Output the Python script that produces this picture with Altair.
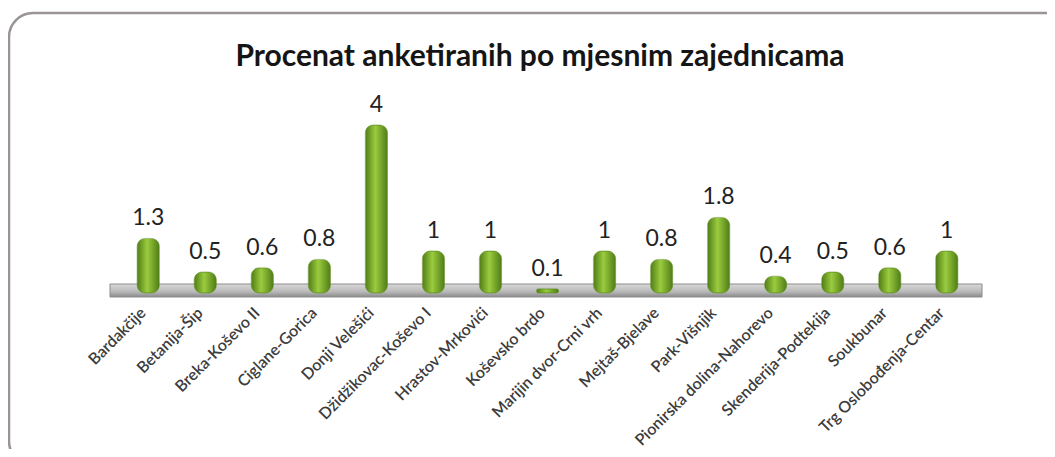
import altair as alt
import pandas as pd

categories = ["Bardakčije", "Betanija-Šip", "Breka-Koševo II", "Ciglane-Gorica",
              "Donji Velešići", "Džidžikovac-Koševo I", "Hrastov-Mrkovići",
              "Koševsko brdo", "Marijin dvor-Crni vrh", "Mejtaš-Bjelave",
              "Park-Višnjik", "Pionirska dolina-Nahorevo", "Skenderija-Podtekija",
              "Soukbunar", "Trg Oslobođenja-Centar"]
values = [1.3, 0.5, 0.6, 0.8, 4, 1, 1, 0.1, 1, 0.8, 1.8, 0.4, 0.5, 0.6, 1]
labels = ["1.3", "0.5", "0.6", "0.8", "4", "1", "1", "0.1", "1", "0.8", "1.8",
          "0.4", "0.5", "0.6", "1"]
title_text = ["Procenat anketiranih po mjesnim zajednicama"]

df = pd.DataFrame({"cat": categories, "val": values, "lab": labels})

W, H = 855, 168
FONT = "Lato"

x = alt.X("cat:N", sort=categories, title=None,
          scale=alt.Scale(paddingInner=0.61, paddingOuter=0.3),
          axis=alt.Axis(labelAngle=-45, labelAlign="right", labelBaseline="middle",
                        labelFontSize=16, labelColor="#3c3c3c", labelFont=FONT,
                        labelFontWeight=600, ticks=False, domain=False,
                        labelPadding=17, labelOffset=-5, labelLimit=260, zindex=1))
y = alt.Y("val:Q", title=None, scale=alt.Scale(domain=[0, 4]), axis=None)

frame = alt.Chart(pd.DataFrame({"k": [0]})).mark_rect(
    fill="white", stroke="#9a9494", strokeWidth=2.5, cornerRadius=24
).encode(x=alt.value(-111), x2=alt.value(980), y=alt.value(-112), y2=alt.value(340))

title = alt.Chart(pd.DataFrame({"t": title_text})).mark_text(
    font=FONT, fontSize=30, fontWeight="bold", color="#151515",
    align="center", baseline="middle"
).encode(x=alt.value(420), y=alt.value(-68), text="t:N")

floor = alt.Chart(pd.DataFrame({"k": [0]})).mark_rect(
    fill=alt.Gradient(gradient="linear", x1=0, y1=0, x2=0, y2=1,
                      stops=[alt.GradientStop(offset=0, color="#d9d9d9"),
                             alt.GradientStop(offset=0.6, color="#b8b8b8"),
                             alt.GradientStop(offset=1, color="#8a8a8a")]),
    stroke="#8c8c8c", strokeWidth=1
).encode(x=alt.value(-10), x2=alt.value(862), y=alt.value(159), y2=alt.value(172))

bars = alt.Chart(df).mark_bar(
    cornerRadius=8,
    fill=alt.Gradient(gradient="linear", x1=0, y1=0, x2=1, y2=0,
                      stops=[alt.GradientStop(offset=0, color="#4f7d17"),
                             alt.GradientStop(offset=0.45, color="#9bcb3e"),
                             alt.GradientStop(offset=1, color="#4f7d17")]),
    stroke="#5b8a1c", strokeWidth=0.5
).encode(x=x, y=y)

text = alt.Chart(df).mark_text(
    font=FONT, fontSize=23, color="#222222", dy=-13, baseline="alphabetic"
).encode(x=x, y=y, text="lab:N")

chart = alt.layer(frame, title, floor, bars, text).properties(
    width=W, height=H,
    padding={"left": 112, "top": 117, "right": 72, "bottom": 156},
    autosize=alt.AutoSizeParams(type="none")
).configure_view(stroke=None).configure(background="white")

chart.save("out.html", embed_options={"renderer": "svg", "actions": False})
